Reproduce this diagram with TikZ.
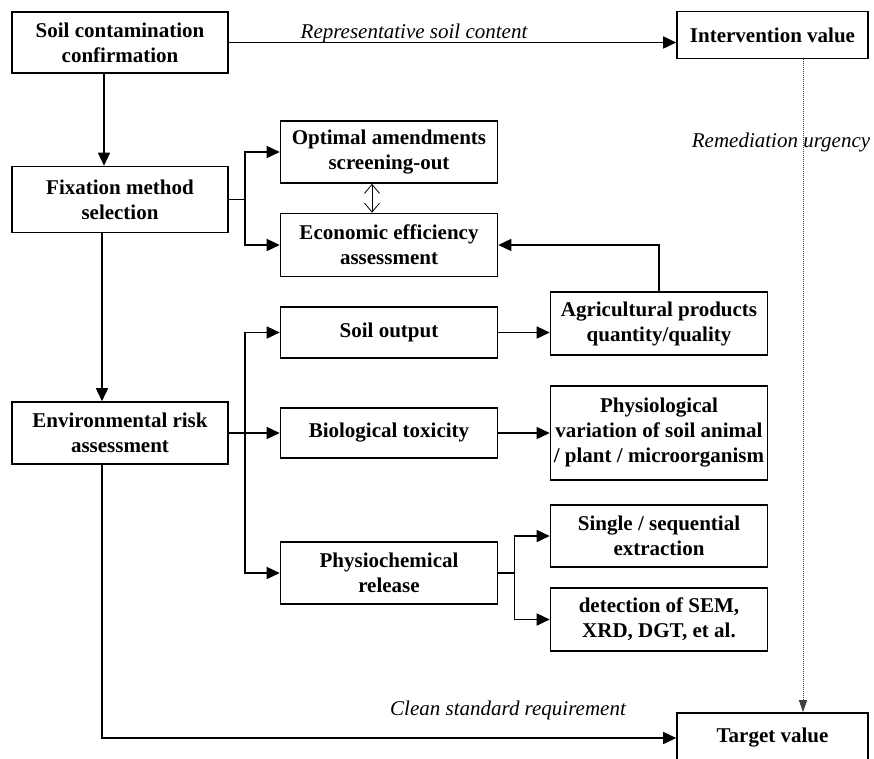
\documentclass[tikz,border=0pt]{standalone}
\usepackage{fontspec}
\setmainfont{Liberation Serif}
\usetikzlibrary{arrows.meta}
\tikzset{
  box/.style={draw, line width=1.6pt, rectangle, align=center, inner sep=0pt,
    font=\fontsize{21}{25}\selectfont\bfseries},
  lab/.style={font=\fontsize{21}{24}\selectfont\itshape, inner sep=0pt},
  arr/.style={line width=1.6pt, -{Triangle[length=13pt,width=12pt]}},
  conn/.style={line width=1.6pt},
  dblarr/.style={line width=0.8pt, {Straight Barb[length=9pt,width=15pt]}-{Straight Barb[length=9pt,width=15pt]}},
  dotarr/.style={line width=1pt, densely dotted, black!75, -{Triangle[length=12pt,width=8pt]}}
}
\begin{document}
\begin{tikzpicture}[x=1pt,y=1pt]
\useasboundingbox (0,0) rectangle (874,-758);
% nodes
\node[box, minimum width=216, minimum height=61] (soil) at (120,-42.5) {Soil contamination\\confirmation};
\node[box, minimum width=191, minimum height=47] (interv) at (772.5,-35) {Intervention value};
\node[box, minimum width=216, minimum height=66] (fix) at (120,-199.5) {Fixation method\\selection};
\node[box, minimum width=217, minimum height=62] (opt) at (389,-152) {Optimal amendments\\screening-out};
\node[box, minimum width=217, minimum height=63] (eco) at (389,-245) {Economic efficiency\\assessment};
\node[box, minimum width=217, minimum height=63] (agri) at (659,-323.5) {Agricultural products\\quantity/quality};
\node[box, minimum width=217, minimum height=51] (out) at (389,-332.5) {Soil output};
\node[box, minimum width=216, minimum height=62] (env) at (120,-433) {Environmental risk\\assessment};
\node[box, minimum width=217, minimum height=50] (bio) at (389,-433) {Biological toxicity};
\node[box, minimum width=217, minimum height=94] (phys) at (659,-433) {Physiological\\variation of soil animal\\/ plant / microorganism};
\node[box, minimum width=217, minimum height=62] (chem) at (389,-573) {Physiochemical\\release};
\node[box, minimum width=217, minimum height=62] (single) at (659,-536) {Single / sequential\\extraction};
\node[box, minimum width=217, minimum height=63] (detect) at (659,-619.5) {detection of SEM,\\XRD, DGT, et al.};
\node[box, minimum width=191, minimum height=50] (target) at (772.5,-738) {Target value};
% labels
\node[lab] (l1) at (414,-33) {Representative soil content};
\node[lab] (l2) at (781,-142) {Remediation urgency};
\node[lab] (l3) at (508,-710) {Clean standard requirement};
% junctions
\coordinate (j1) at (245,-199.5);
\coordinate (j2) at (245,-433);
\coordinate (j3) at (514.5,-573);
% connectors
\draw[arr] (soil.east) -- (soil.east -| interv.west);
\draw[arr] ([xshift=-16]soil.south) -- ([xshift=-16]fix.north);
\draw[arr] ([xshift=-18]fix.south) -- ([xshift=-18]env.north);
\draw[arr] ([xshift=-18]env.south) |- (target.west);
\draw[conn] (fix.east) -- (j1);
\draw[arr] (j1) |- (opt.west);
\draw[arr] (j1) |- (eco.west);
\draw[dblarr] ([xshift=-17]opt.south) -- ([xshift=-17]eco.north);
\draw[arr] (agri.north) |- (eco.east);
\draw[conn] (env.east) -- (j2);
\draw[arr] (j2) |- (out.west);
\draw[arr] (j2) -- (bio.west);
\draw[arr] (j2) |- (chem.west);
\draw[arr] (out.east) -- (out.east -| agri.west);
\draw[arr] (bio.east) -- (phys.west);
\draw[conn] (chem.east) -- (j3);
\draw[arr] (j3) |- (single.west);
\draw[arr] (j3) |- (detect.west);
\draw[dotarr] ([xshift=30.5]interv.south) -- ([xshift=30.5]target.north);
\end{tikzpicture}
\end{document}
